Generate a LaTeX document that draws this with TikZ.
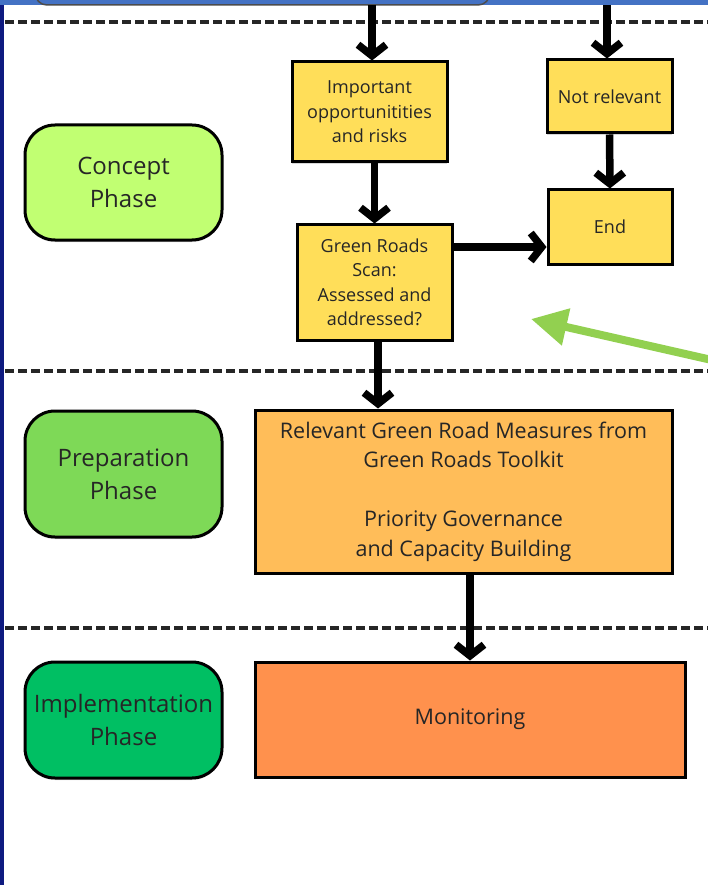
\documentclass[tikz,border=0pt]{standalone}
\usepackage{fontspec}
\setmainfont{Open Sans}
\usetikzlibrary{arrows.meta}
\usetikzlibrary{shadows}
\definecolor{barblue}{HTML}{4472C4}
\definecolor{navy}{HTML}{0E1A80}
\definecolor{textgray}{HTML}{262626}
\definecolor{boxyellow}{HTML}{FFDE59}
\definecolor{boxorange}{HTML}{FFBD59}
\definecolor{boxdeep}{HTML}{FF914D}
\definecolor{conceptgreen}{HTML}{C1FF72}
\definecolor{prepgreen}{HTML}{7ED957}
\definecolor{implgreen}{HTML}{00BF63}
\definecolor{pointgreen}{HTML}{92D050}
\tikzset{
    box/.style={draw=black, line width=3pt, align=center, inner sep=0pt, text=textgray,
        drop shadow={shadow xshift=0pt, shadow yshift=-2pt, opacity=.3}},
    ybox/.style={box, fill=boxyellow, font=\fontsize{18}{24.5}\selectfont},
    obox/.style={box, font=\fontsize{21.5}{29.5}\selectfont},
    phase/.style={box, rounded corners=30pt, minimum width=197pt, font=\fontsize{24}{33}\selectfont},
    arr/.style={line width=7.5pt, -{Straight Barb[length=11pt,width=28pt]}},
    sep/.style={dash pattern=on 9pt off 4pt, line width=3.5pt, black!85},
    pointer/.style={line width=8pt, pointgreen, -{Triangle[length=36pt,width=36pt]}},
}
\begin{document}
\begin{tikzpicture}[x=1pt,y=-1pt]
\clip (0,0) rectangle (708,885);
\fill[white] (0,0) rectangle (708,885);
% top bar and the box cut off above
\node[fill=barblue, inner sep=0pt, minimum width=708pt, minimum height=5pt] (bar) at (354,2.5) {};
\node[draw=black!70, line width=1.5pt, fill=barblue, rounded corners=12pt, minimum width=455pt, minimum height=45pt, inner sep=0pt] (topbox) at (262.5,-17.5) {};
\node[fill=navy, inner sep=0pt, minimum width=4pt, minimum height=880pt] (side) at (2,445) {};
% phase separators
\foreach \y in {22,371,628}
    \draw[sep] (5,\y) -- (708,\y);
% phases
\node[phase, fill=conceptgreen, minimum height=115pt] (concept) at (123.5,182.5) {Concept\\Phase};
\node[phase, fill=prepgreen, minimum height=126pt] (prep) at (123.5,474) {Preparation\\Phase};
\node[phase, fill=implgreen, minimum height=116pt] (impl) at (123.5,720) {Implementation\\Phase};
% flow
\node[ybox, minimum width=155pt, minimum height=100pt] (imp) at (369.5,112) {Important\\opportunitities\\and risks};
\node[ybox, minimum width=125pt, minimum height=73pt] (notrel) at (609.5,96.5) {Not relevant};
\node[ybox, minimum width=124pt, minimum height=74pt] (endbox) at (610,227) {End};
\node[ybox, minimum width=155pt, minimum height=115pt] (grs) at (374.5,282.5) {Green Roads\\Scan:\\Assessed and\\addressed?};
\node[obox, fill=boxorange, minimum width=417pt, minimum height=163pt] (rel) at (463.5,491.5) {Relevant Green Road Measures from\\Green Roads Toolkit\\[29.5pt]Priority Governance\\and Capacity Building};
\node[obox, fill=boxdeep, minimum width=430pt, minimum height=115pt] (mon) at (470,719.5) {Monitoring};
\coordinate (esh) at ([yshift=-20pt]endbox.west);
\draw[arr] ([xshift=2.5pt]bar.south -| imp.north) -- ([xshift=2.5pt]imp.north);
\draw[arr] ([xshift=-2.5pt]bar.south -| notrel.north) -- ([xshift=-2.5pt]notrel.north);
\draw[arr] (notrel) -- (endbox);
\draw[arr] (imp.south -| grs.north) -- (grs.north);
\draw[arr] (grs.east |- esh) -- (esh);
\draw[arr] ([xshift=3.5pt]grs.south) -- ([xshift=3.5pt]grs.south |- rel.north);
\draw[arr] (rel.south -| mon.north) -- (mon.north);
% green pointer
\coordinate (gtail) at (725,363);
\coordinate (gtip) at (531,319);
\draw[pointer] (gtail) -- (gtip);
\end{tikzpicture}
\end{document}
